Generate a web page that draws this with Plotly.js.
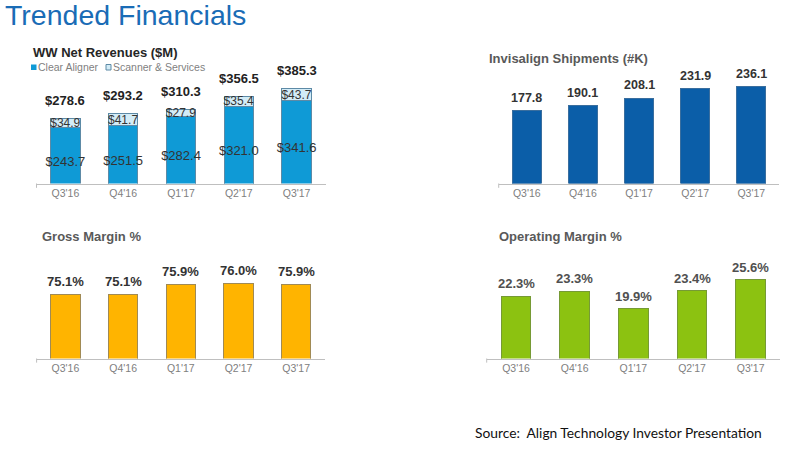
<!DOCTYPE html>
<html>
<head>
<meta charset="utf-8">
<script src="https://cdn.plot.ly/plotly-3.0.1.min.js"></script>
<style>html,body{margin:0;padding:0;background:#fff;}#chart{width:793px;height:457px;}</style>
</head>
<body>
<div id="chart"></div>
<script>
// ---- data ----
const quarters = ["Q3'16", "Q4'16", "Q1'17", "Q2'17", "Q3'17"];
const clearAligner = [243.7, 251.5, 282.4, 321.0, 341.6];
const scannerServices = [34.9, 41.7, 27.9, 35.4, 43.7];
const revenueTotals = [278.6, 293.2, 310.3, 356.5, 385.3];
const shipments = [177.8, 190.1, 208.1, 231.9, 236.1];
const grossMargin = [75.1, 75.1, 75.9, 76.0, 75.9];
const operatingMargin = [22.3, 23.3, 19.9, 23.4, 25.6];

// ---- helpers ----
const W = 793, H = 457;
const FONT = "Liberation Sans, Arial, sans-serif";
const px = v => v / W;
const py = v => 1 - v / H;

const traces = [
  {type: 'bar', x: quarters, y: clearAligner, xaxis: 'x', yaxis: 'y', name: 'Clear Aligner',
   marker: {color: '#0f9ad6', line: {color: '#5d8aa6', width: 1}},
   text: clearAligner.map(v => '$' + v.toFixed(1)), textposition: 'inside', insidetextanchor: 'middle',
   constraintext: 'none', textangle: 0, textfont: {family: FONT, size: 13, color: '#333333'}, hoverinfo: 'skip'},
  {type: 'bar', x: quarters, y: scannerServices, xaxis: 'x', yaxis: 'y', name: 'Scanner & Services',
   marker: {color: '#d3ecf7', line: {color: '#5d8aa6', width: 1}},
   text: scannerServices.map(v => '$' + v.toFixed(1)), textposition: 'inside', insidetextanchor: 'middle',
   constraintext: 'none', textangle: 0, textfont: {family: FONT, size: 12, color: '#333333'}, hoverinfo: 'skip'},
  {type: 'bar', x: quarters, y: shipments, xaxis: 'x2', yaxis: 'y2', name: 'Shipments',
   marker: {color: '#0b5ea8', line: {color: '#3a6e9e', width: 1}}, hoverinfo: 'skip'},
  {type: 'bar', x: quarters, y: grossMargin, xaxis: 'x3', yaxis: 'y3', name: 'Gross Margin',
   marker: {color: '#ffb400', line: {color: '#a08a55', width: 1}}, hoverinfo: 'skip'},
  {type: 'bar', x: quarters, y: operatingMargin, xaxis: 'x4', yaxis: 'y4', name: 'Operating Margin',
   marker: {color: '#8cc211', line: {color: '#769a35', width: 1}}, hoverinfo: 'skip'}
];

function xax(x0, x1, anchor) {
  return {domain: [px(x0), px(x1)], anchor: anchor, showline: true, linecolor: '#bfbfbf', linewidth: 1,
          showgrid: false, zeroline: false, ticks: '', fixedrange: true,
          tickfont: {family: FONT, size: 10.5, color: '#808080'}};
}
function yax(top, bottom, r0, r1, anchor) {
  return {domain: [py(bottom), py(top)], anchor: anchor, range: [r0, r1], visible: false, fixedrange: true};
}

const annotations = [];
function valueLabels(vals, xa, ya, fmt, size, color, shift) {
  vals.forEach((v, i) => annotations.push({
    x: quarters[i], y: v, xref: xa, yref: ya, text: fmt(v), showarrow: false,
    xanchor: 'center', yanchor: 'bottom', yshift: shift,
    font: {family: FONT, size: size, color: color}
  }));
}
valueLabels(revenueTotals, 'x', 'y', v => '<b>$' + v.toFixed(1) + '</b>', 13, '#222222', 8.5);
valueLabels(shipments, 'x2', 'y2', v => '<b>' + v.toFixed(1) + '</b>', 12.5, '#333333', 4);
valueLabels(grossMargin, 'x3', 'y3', v => '<b>' + v.toFixed(1) + '%</b>', 13, '#333333', 3);
valueLabels(operatingMargin, 'x4', 'y4', v => '<b>' + v.toFixed(1) + '%</b>', 13, '#505050', 3);

function txt(x, y, text, size, color, family) {
  annotations.push({x: px(x), y: py(y), xref: 'paper', yref: 'paper', text: text, showarrow: false,
    xanchor: 'left', yanchor: 'middle', font: {family: family || FONT, size: size, color: color}});
}
txt(3, 15, 'Trended Financials', 28.5, '#1a6cb6');
txt(31, 52, '<b>WW Net Revenues ($M)</b>', 13, '#262626');
txt(487, 58.5, '<b>Invisalign Shipments (#K)</b>', 13, '#595959');
txt(39.5, 236, '<b>Gross Margin %</b>', 13, '#595959');
txt(497, 236, '<b>Operating Margin %</b>', 13, '#595959');
txt(36, 67.3, 'Clear Aligner', 10.5, '#7f7f7f');
txt(111, 67.3, 'Scanner & Services', 10.5, '#7f7f7f');
txt(473, 432, 'Source:&nbsp; Align Technology Investor Presentation', 13.8, '#111111', 'Lato, Carlito, sans-serif');

const shapes = [
  {type: 'rect', xref: 'paper', yref: 'paper', x0: px(31), x1: px(36.5), y0: py(70), y1: py(64.5),
   fillcolor: '#0f9ad6', line: {width: 0}},
  {type: 'rect', xref: 'paper', yref: 'paper', x0: px(106), x1: px(111), y0: py(70), y1: py(64.5),
   fillcolor: '#d3ecf7', line: {color: '#5d8aa6', width: 1}}
];
[['x', 'y'], ['x2', 'y2'], ['x3', 'y3'], ['x4', 'y4']].forEach(([a, b]) => shapes.push({
  type: 'line', xref: a + ' domain', yref: b + ' domain', x0: 0, x1: 0, y0: 0, y1: -0.035,
  line: {color: '#bfbfbf', width: 1}
}));

const layout = {
  width: W, height: H, autosize: false,
  margin: {l: 0, r: 0, t: 0, b: 0},
  paper_bgcolor: '#ffffff', plot_bgcolor: '#ffffff',
  barmode: 'stack', bargap: 0.49, showlegend: false,
  xaxis: xax(36.5, 325.5, 'y'),
  yaxis: yax(60, 183.5, 41, 489, 'x'),
  xaxis2: xax(498.7, 779.3, 'y2'),
  yaxis2: yax(60, 183.5, 0, 302, 'x2'),
  xaxis3: xax(36.6, 325, 'y3'),
  yaxis3: yax(240, 358.5, 70, 79.44, 'x3'),
  xaxis4: xax(486.7, 780, 'y4'),
  yaxis4: yax(240, 358.5, 10, 33.47, 'x4'),
  annotations: annotations,
  shapes: shapes
};

Plotly.newPlot('chart', traces, layout, {displayModeBar: false, staticPlot: true});
</script>
</body>
</html>
